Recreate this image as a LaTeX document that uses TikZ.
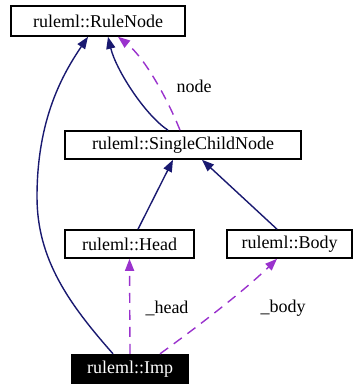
\documentclass[tikz,border=0pt]{standalone}
\usepackage{fontspec}
\setmainfont{Liberation Serif}
\usetikzlibrary{arrows.meta}
\definecolor{inherit}{HTML}{191970}
\definecolor{usage}{HTML}{9A32CD}
\begin{document}
\begin{tikzpicture}[x=1pt,y=-1pt,
  font=\fontsize{18}{21}\selectfont,
  classbox/.style={draw=black, line width=1.6pt, fill=white, inner sep=0pt, minimum height=28pt},
  focusbox/.style={fill=black, text=white, inner sep=0pt, minimum height=30pt},
  inh/.style={draw=inherit, line width=1.4pt, -{Triangle[length=12pt,width=9pt]}},
  use/.style={draw=usage, line width=1.4pt, dash pattern=on 10pt off 7pt, -{Triangle[length=12pt,width=9pt]}},
  lbl/.style={inner sep=0pt}]
  \useasboundingbox (0,0) rectangle (355,387);

  % classes
  \node[classbox, minimum width=174pt, minimum height=30pt] (rn) at (98,21) {ruleml::RuleNode};
  \node[classbox, minimum width=236pt] (scn) at (183,145) {ruleml::SingleChildNode};
  \node[classbox, minimum width=129pt] (head) at (129.5,244) {ruleml::Head};
  \node[classbox, minimum width=125pt] (body) at (289.5,244) {ruleml::Body};
  \node[focusbox, minimum width=118pt] (imp) at (130,369) {ruleml::Imp};

  % inheritance
  \draw[inh] ([xshift=-17pt]imp.north) .. controls (70,305) and (37,260) .. (37,197)
             .. controls (37,120) and (62,75) .. ([xshift=-10pt]rn.south);
  \draw[inh] ([xshift=-15pt]scn.north) .. controls (145,115) and (116,70) .. ([xshift=10pt]rn.south);
  \draw[inh] ([xshift=8.5pt]head.north) -- ([xshift=-10pt]scn.south);
  \draw[inh] ([xshift=-12.5pt]body.north) -- ([xshift=19pt]scn.south);

  % usage
  \draw[use] ([xshift=-3pt]scn.north) .. controls (168,100) and (145,58) .. ([xshift=20pt]rn.south);
  \draw[use] (imp.north) -- (head.south);
  \draw[use] ([xshift=30pt]imp.north) .. controls (200,325) and (245,290) .. ([xshift=-12.5pt]body.south);

  % labels
  \node[lbl] (lnode) at (194,86) {node};
  \node[lbl] (lhead) at (167,308) {\_head};
  \node[lbl] (lbody) at (283,308) {\_body};
\end{tikzpicture}
\end{document}
